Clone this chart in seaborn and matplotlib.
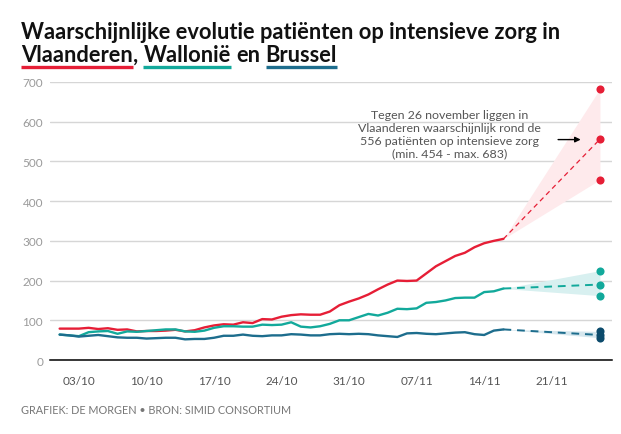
import matplotlib
matplotlib.use("Agg")
import matplotlib.pyplot as plt
import numpy as np
import pandas as pd
import seaborn as sns
from matplotlib.lines import Line2D

# --- data --------------------------------------------------------------------
dates = pd.date_range("2020-10-01", "2020-11-16", freq="D")
vlaanderen = [79, 79, 79, 81, 78, 80, 76, 77, 72, 73, 73, 74, 76, 72, 75, 82,
              87, 90, 89, 95, 93, 103, 102, 109, 113, 115, 114, 114, 122, 138,
              147, 155, 165, 178, 190, 200, 199, 200, 218, 236, 249, 262, 270,
              284, 294, 300, 305]
wallonie = [64, 62, 60, 70, 72, 73, 66, 72, 71, 73, 75, 77, 77, 72, 71, 74,
            81, 85, 85, 84, 84, 89, 88, 89, 95, 84, 82, 85, 91, 100, 100, 108,
            116, 112, 119, 129, 128, 130, 144, 146, 150, 156, 157, 157, 171,
            173, 180]
brussel = [64, 62, 59, 61, 63, 60, 57, 56, 56, 54, 55, 56, 56, 52, 53, 53, 56,
           61, 61, 64, 61, 60, 62, 62, 65, 64, 62, 62, 65, 66, 65, 66, 65, 62,
           60, 58, 67, 68, 66, 65, 67, 69, 70, 65, 63, 74, 77]

proj_date = pd.Timestamp("2020-11-26")
# (min, waarschijnlijk, max)
proj_vlaanderen = (454, 556, 683)
proj_wallonie = (162, 190, 225)
proj_brussel = (56, 63, 72)

tick_dates = pd.date_range("2020-10-03", "2020-11-21", freq="7D")
tick_labels = ["03/10", "10/10", "17/10", "24/10", "31/10", "07/11", "14/11", "21/11"]
y_ticks = [0, 100, 200, 300, 400, 500, 600, 700]

regions = ["Vlaanderen", "Wallonië", "Brussel"]
line_colors = {"Vlaanderen": "#e61e36", "Wallonië": "#12a99b", "Brussel": "#1d6d8d"}
band_colors = {"Vlaanderen": "#feeaec", "Wallonië": "#d8f0f0", "Brussel": "#d6e7ee"}
dot_colors = {"Vlaanderen": "#e61e36", "Wallonië": "#12a99b", "Brussel": "#0c4b6c"}
dash_lw = {"Vlaanderen": 0.9, "Wallonië": 1.4, "Brussel": 1.4}

series = {"Vlaanderen": vlaanderen, "Wallonië": wallonie, "Brussel": brussel}
projections = {"Vlaanderen": proj_vlaanderen, "Wallonië": proj_wallonie,
               "Brussel": proj_brussel}

df = (
    pd.DataFrame({"date": dates, **series})
    .melt(id_vars="date", var_name="regio", value_name="patienten")
)

# --- figure ------------------------------------------------------------------
sns.set_style("white")
plt.rcParams["font.family"] = ["Lato", "DejaVu Sans"]

W, H = 621, 435
fig = plt.figure(figsize=(W / 100, H / 100), dpi=100)
ax = fig.add_axes([50 / W, 1 - 361 / H, 562 / W, 278 / H])

for regio in regions:
    last_d, last_v = dates[-1], series[regio][-1]
    lo, mid, hi = projections[regio]
    ax.fill_between([last_d, proj_date], [last_v, lo], [last_v, hi],
                    color=band_colors[regio], lw=0, zorder=1)
    ax.plot([last_d, proj_date], [last_v, mid], color=line_colors[regio],
            lw=dash_lw[regio], ls=(0, (4, 3)), zorder=2)

sns.lineplot(data=df, x="date", y="patienten", hue="regio", hue_order=regions,
             palette=line_colors, lw=1.7, legend=False, ax=ax, zorder=3)

for regio in regions:
    ax.scatter([proj_date] * 3, projections[regio], s=34,
               color=dot_colors[regio], lw=0, zorder=5, clip_on=False)

ax.set_xlim(pd.Timestamp("2020-09-30"), pd.Timestamp("2020-11-27 06:00"))
ax.set_ylim(0, 700)
ax.set_xlabel("")
ax.set_ylabel("")
ax.set_yticks(y_ticks)
ax.set_yticklabels([str(v) for v in y_ticks])
ax.set_xticks(tick_dates)
ax.set_xticklabels(tick_labels)
ax.yaxis.grid(True, color="#d6d6d6", lw=1)
ax.set_axisbelow(True)
for s in ["top", "right", "left"]:
    ax.spines[s].set_visible(False)
ax.spines["bottom"].set_color("black")
ax.spines["bottom"].set_linewidth(1.1)
ax.spines["bottom"].set_zorder(6)
ax.tick_params(axis="y", length=0, pad=5, labelsize=8.5, labelcolor="#9a9a9a")
ax.tick_params(axis="x", length=3.5, width=0.8, color="black", direction="out",
               pad=7, labelsize=8.5, labelcolor="#555555")

# annotation
ax.text(pd.Timestamp("2020-11-10 10:00"), 569,
        "Tegen 26 november liggen in\nVlaanderen waarschijnlijk rond de\n"
        "556 patiënten op intensieve zorg\n(min. 454 - max. 683)",
        ha="center", va="center", fontsize=8.9, color="#555555", linespacing=1.2)
ax.annotate("", xy=(pd.Timestamp("2020-11-24 07:00"), 555),
            xytext=(pd.Timestamp("2020-11-21 09:00"), 555),
            arrowprops=dict(arrowstyle="-|>", color="black", lw=1,
                            mutation_scale=8))

# --- title with coloured underlines -------------------------------------------
fig.canvas.draw()
r = fig.canvas.get_renderer()
title_kw = dict(fontsize=10, fontweight="bold", color="#111111")


def text_w(s, **kw):
    t = fig.text(0, 0, s, **kw)
    w = t.get_window_extent(renderer=r).width
    t.remove()
    return w


line1 = "Waarschijnlijke evolutie patiënten op intensieve zorg in"
title_kw["fontsize"] = 10 * 541 / text_w(line1, **title_kw)
fig.text(21 / W, 1 - 39 / H, line1, va="baseline", **title_kw)

space_w = text_w("n n", **title_kw) - text_w("nn", **title_kw)
pieces = [("Vlaanderen", "Vlaanderen"), (",", None), (" ", None),
          ("Wallonië", "Wallonië"), (" ", None), ("en", None), (" ", None),
          ("Brussel", "Brussel")]
x = 21.0
for word, regio in pieces:
    if word == " ":
        x += space_w
        continue
    t = fig.text(x / W, 1 - 62 / H, word, va="baseline", **title_kw)
    bb = t.get_window_extent(renderer=r)
    if regio:
        fig.add_artist(Line2D([bb.x0 / W, bb.x1 / W], [1 - 68 / H] * 2,
                              color=line_colors[regio], lw=2.4,
                              solid_capstyle="butt", transform=fig.transFigure))
    x = bb.x1

fig.text(21 / W, 1 - 411 / H, "GRAFIEK: DE MORGEN • BRON: SIMID CONSORTIUM",
         va="center", fontsize=7.8, color="#777777")

fig.savefig("out.png", dpi=100)
